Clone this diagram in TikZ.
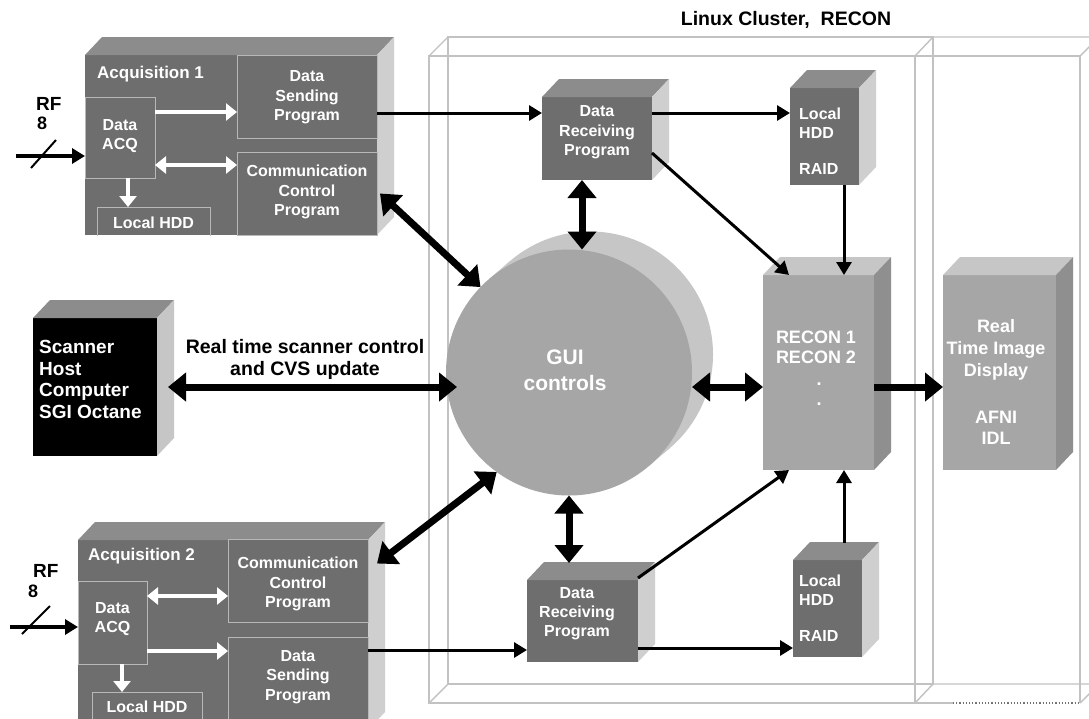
\documentclass[tikz,border=0pt]{standalone}
\usepackage{fontspec}
\setmainfont{Liberation Sans}
\usetikzlibrary{arrows.meta,calc}
\definecolor{dkfront}{HTML}{6E6E6E}
\definecolor{dktop}{HTML}{8C8C8C}
\definecolor{dkside}{HTML}{CFCFCF}
\definecolor{ltfront}{HTML}{A6A6A6}
\definecolor{lttop}{HTML}{C6C6C6}
\definecolor{ltside}{HTML}{8F8F8F}
\definecolor{innerline}{HTML}{B8B8B8}
\definecolor{framegray}{HTML}{C2C2C2}
\newcommand\fsz[2]{\fontsize{#1}{#2}\selectfont\bfseries}
\newcommand\cubefaces[3]{%
 \fill[#2] (#1.north west) -- ([shift={(17,-18)}]#1.north west) -- ([shift={(17,-18)}]#1.north east) -- (#1.north east) -- cycle;
 \fill[#3] (#1.north east) -- ([shift={(17,-18)}]#1.north east) -- ([shift={(17,-18)}]#1.south east) -- (#1.south east) -- cycle;}
\begin{document}
\begin{tikzpicture}[x=1pt,y=-1pt,
 box/.style 2 args={rectangle, minimum width=#1pt, minimum height=#2pt, inner sep=0pt, outer sep=0pt},
 wtxt/.style={text=white, align=center, inner sep=0pt},
 btxt/.style={text=black, align=center, inner sep=0pt},
 framel/.style={draw=framegray, line width=1.4pt},
 inb/.style={draw=innerline, line width=1pt},
 warr/.style={draw=white, line width=4.5pt, -{Triangle[length=11pt,width=17pt]}},
 wdarr/.style={draw=white, line width=4.5pt, {Triangle[length=11pt,width=17pt]}-{Triangle[length=11pt,width=17pt]}},
 tarr/.style={draw=black, line width=3pt, -{Triangle[length=13pt,width=15pt]}},
 barr/.style={draw=black, line width=7pt, -{Triangle[length=18pt,width=28pt]}},
 bdarr/.style={draw=black, line width=7pt, {Triangle[length=18pt,width=28pt]}-{Triangle[length=18pt,width=28pt]}}
]
\useasboundingbox (0,0) rectangle (1089,718);
\fill[white] (0,0) rectangle (1089,718);

% ---------- cluster frames ----------
\draw[framel] (429,56) rectangle (915,703);
\draw[framel] (448,37) rectangle (933,684);
\draw[framel] (429,56) -- (448,37) (915,56) -- (933,37) (429,703) -- (448,684) (915,703) -- (933,684);
\draw[framel] (915,56) -- (1080,56) -- (1080,703) (915,703) -- (953,703);
\draw[framel] (933,37) -- (1100,37) (933,684) -- (1100,684) (1080,56) -- (1099,37) (1080,703) -- (1099,684);
\draw[black!55, line width=1.2pt, dotted] (953,703) -- (1080,703);
\node[btxt, font={\fsz{19.5}{22}}] (title) at (786,20) {Linux Cluster,\ \ RECON};

% ---------- Acquisition 1 ----------
\node[box={292}{180}, fill=dkfront] (acq1) at (231,145) {};
\cubefaces{acq1}{dktop}{dkside}
\node[box={140}{83}, fill=dkfront, inb] (dsp1) at (307,96.5) {};
\node[wtxt, font={\fsz{16}{19.5}}] at (307,97.5) {Data\\Sending\\Program};
\node[box={140}{83}, fill=dkfront, inb] (ccp1) at (307,193.5) {};
\node[wtxt, font={\fsz{16}{19.5}}] at (307,192) {Communication\\Control\\Program};
\node[box={70}{81}, fill=dkfront, inb] (dacq1) at (120,137.5) {};
\node[wtxt, font={\fsz{16}{19}}] at (120,136.5) {Data\\ACQ};
\node[box={113}{29}] (lh1) at (153.5,221.5) {};
\draw[inb] (lh1.south west) -- (lh1.north west) -- (lh1.north east) -- (lh1.south east);
\node[wtxt, font={\fsz{16}{19}}] at (153.5,223) {Local HDD};
\node[wtxt, anchor=west, font={\fsz{17}{20}}] (acq1lbl) at (97,74) {Acquisition 1};
\draw[warr] ([yshift=-15pt]dacq1.north east) -- ([yshift=-15pt]dacq1.north east -| dsp1.west);
\draw[wdarr] ([yshift=13pt]dacq1.south east) -- ([yshift=13pt]dacq1.south east -| ccp1.west);
\draw[warr] ([xshift=8pt]dacq1.south) -- ([xshift=8pt]dacq1.south |- lh1.north);
\node[btxt, anchor=west, font={\fsz{19}{20}}] (rf1) at (36,104) {RF};
\node[btxt, anchor=west, font={\fsz{18}{20}}] (n1) at (37,123) {8};
\coordinate (rfin1) at (16,156);
\draw[tarr, line width=3.5pt] (rfin1) -- (rfin1 -| acq1.west);
\draw[black, line width=2pt] (31,168) -- (56,140);

% ---------- Acquisition 2 ----------
\node[box={290}{190}, fill=dkfront] (acq2) at (223,635) {};
\cubefaces{acq2}{dktop}{dkside}
\node[box={140}{83}, fill=dkfront, inb] (ccp2) at (298,580.5) {};
\node[wtxt, font={\fsz{16}{19.5}}] at (298,584) {Communication\\Control\\Program};
\node[box={140}{93}, fill=dkfront, inb] (dsp2) at (298,683.5) {};
\node[wtxt, font={\fsz{16}{19.5}}] at (298,677) {Data\\Sending\\Program};
\node[box={69}{83}, fill=dkfront, inb] (dacq2) at (112.5,622.5) {};
\node[wtxt, font={\fsz{16}{19}}] at (112.5,619.5) {Data\\ACQ};
\node[box={110}{40}] (lh2) at (147,712) {};
\draw[inb] (lh2.south west) -- (lh2.north west) -- (lh2.north east) -- (lh2.south east);
\node[wtxt, font={\fsz{16}{19}}] at (147,707) {Local HDD};
\node[wtxt, anchor=west, font={\fsz{17}{20}}] (acq2lbl) at (88,556) {Acquisition 2};
\draw[wdarr] ([yshift=-15pt]dacq2.north east) -- ([yshift=-15pt]dacq2.north east -| ccp2.west);
\draw[warr] ([yshift=13pt]dacq2.south east) -- ([yshift=13pt]dacq2.south east -| dsp2.west);
\draw[warr] ([xshift=9.5pt]dacq2.south) -- ([xshift=9.5pt]dacq2.south |- lh2.north);
\node[btxt, anchor=west, font={\fsz{19}{20}}] (rf2) at (33,571) {RF};
\node[btxt, anchor=west, font={\fsz{18}{20}}] (n2) at (28,591) {8};
\coordinate (rfin2) at (10,627);
\draw[tarr, line width=3.5pt] (rfin2) -- (rfin2 -| acq2.west);
\draw[black, line width=2pt] (22,634) -- (50,606);

% ---------- Scanner host ----------
\node[box={124}{138}, fill=black] (scanner) at (95,387) {};
\cubefaces{scanner}{dktop}{lttop}
\node[wtxt, anchor=west, align=left, font={\fsz{19}{21.7}}] at (39,379.5) {Scanner\\Host\\Computer\\SGI Octane};
\node[btxt, font={\fsz{19.5}{22}}] (sclbl) at (305,359) {Real time scanner control\\and CVS update};

% ---------- cluster boxes ----------
\node[box={110}{83}, fill=dkfront] (drp1) at (597,138.5) {};
\cubefaces{drp1}{dktop}{dkside}
\node[wtxt, font={\fsz{16}{19.5}}] at (597,132.5) {Data\\Receiving\\Program};
\node[box={69}{97}, fill=dkfront] (hdd1) at (824.5,136.5) {};
\cubefaces{hdd1}{dktop}{dkside}
\node[wtxt, anchor=west, align=left, font={\fsz{16}{19}}] at (799,141) {Local\\HDD\\[17pt]RAID};

\node[box={111}{82}, fill=dkfront] (drp2) at (582.5,621) {};
\cubefaces{drp2}{dktop}{dkside}
\node[wtxt, font={\fsz{16}{19}}] at (577,613.5) {Data\\Receiving\\Program};
\node[box={69}{97}, fill=dkfront] (hdd2) at (827.5,608.5) {};
\cubefaces{hdd2}{dktop}{dkside}
\node[wtxt, anchor=west, align=left, font={\fsz{16}{19}}] at (799,608.5) {Local\\HDD\\[17pt]RAID};

\node[box={111}{195}, fill=ltfront] (recon) at (818.5,372.5) {};
\cubefaces{recon}{lttop}{ltside}
\node[wtxt, font={\fsz{18}{20}}] at (816,347) {RECON 1\\RECON 2};
\node[wtxt, anchor=base, font={\fsz{18}{20}}] at (819,385) {.};
\node[wtxt, anchor=base, font={\fsz{18}{20}}] at (819,405) {.};

\node[box={113}{195}, fill=ltfront] (display) at (999.5,372.5) {};
\cubefaces{display}{lttop}{ltside}
\node[wtxt, font={\fsz{18}{22}}] at (996,350) {Real\\Time Image\\Display};
\node[wtxt, font={\fsz{18}{21}}] at (996,427.5) {AFNI\\IDL};

% ---------- GUI cylinder ----------
\fill[lttop] (590,354.5) circle (123pt);
\fill[lttop] (489,279.1) -- (510,261.1) -- (670,447.9) -- (649,465.9) -- cycle;
\node[circle, fill=ltfront, minimum size=246pt, inner sep=0pt, outer sep=0pt] (gui) at (569,372.5) {};
\node[wtxt, font={\fsz{21}{26}}] at (565,370) {GUI\\controls};

% ---------- connectors ----------
\draw[tarr] ([yshift=-16.5pt]dsp1.east) -- ([yshift=-16.5pt]dsp1.east -| drp1.west);
\draw[tarr] ([yshift=25.5pt]drp1.east) -- ([yshift=25.5pt]drp1.east -| hdd1.west);
\coordinate (h1bot) at ([xshift=-15pt]hdd1.south east);
\draw[tarr] (h1bot) -- (h1bot |- recon.north);
\draw[tarr] ([yshift=27pt]drp1.south east) -- ([xshift=26pt]recon.north west);
\coordinate (h2top) at ([xshift=-18pt,yshift=17pt]hdd2.north east);
\draw[tarr] (h2top) -- (h2top |- recon.south);
\draw[tarr] ([yshift=2pt]drp2.north east) -- ([xshift=26pt]recon.south west);
\draw[tarr] ([yshift=33.5pt]dsp2.east) -- ([yshift=33.5pt]dsp2.east -| drp2.west);
\draw[tarr] ([yshift=-27pt]drp2.east) -- ([yshift=-27pt]drp2.east -| hdd2.west);

\coordinate (d1bot) at ([xshift=-15pt]drp1.south);
\draw[bdarr] (d1bot) -- (d1bot |- gui.north);
\coordinate (d2top) at ([yshift=17pt]drp2.north);
\draw[bdarr] (gui.south) -- (gui.south |- d2top);
\draw[bdarr] ([yshift=-14.5pt]gui.east) -- ([yshift=-14.5pt]gui.east -| recon.west);
\draw[barr] ([yshift=-14.5pt]recon.east) -- ([yshift=-14.5pt]recon.east -| display.west);
\draw[bdarr] ([xshift=11pt]scanner.east) -- ([xshift=11pt]scanner.east -| gui.west);
\draw[bdarr] ([xshift=3pt]ccp1.east) -- (gui.136);
\draw[bdarr] ([xshift=9pt,yshift=17pt]ccp2.east) -- (gui.234);
\end{tikzpicture}
\end{document}
